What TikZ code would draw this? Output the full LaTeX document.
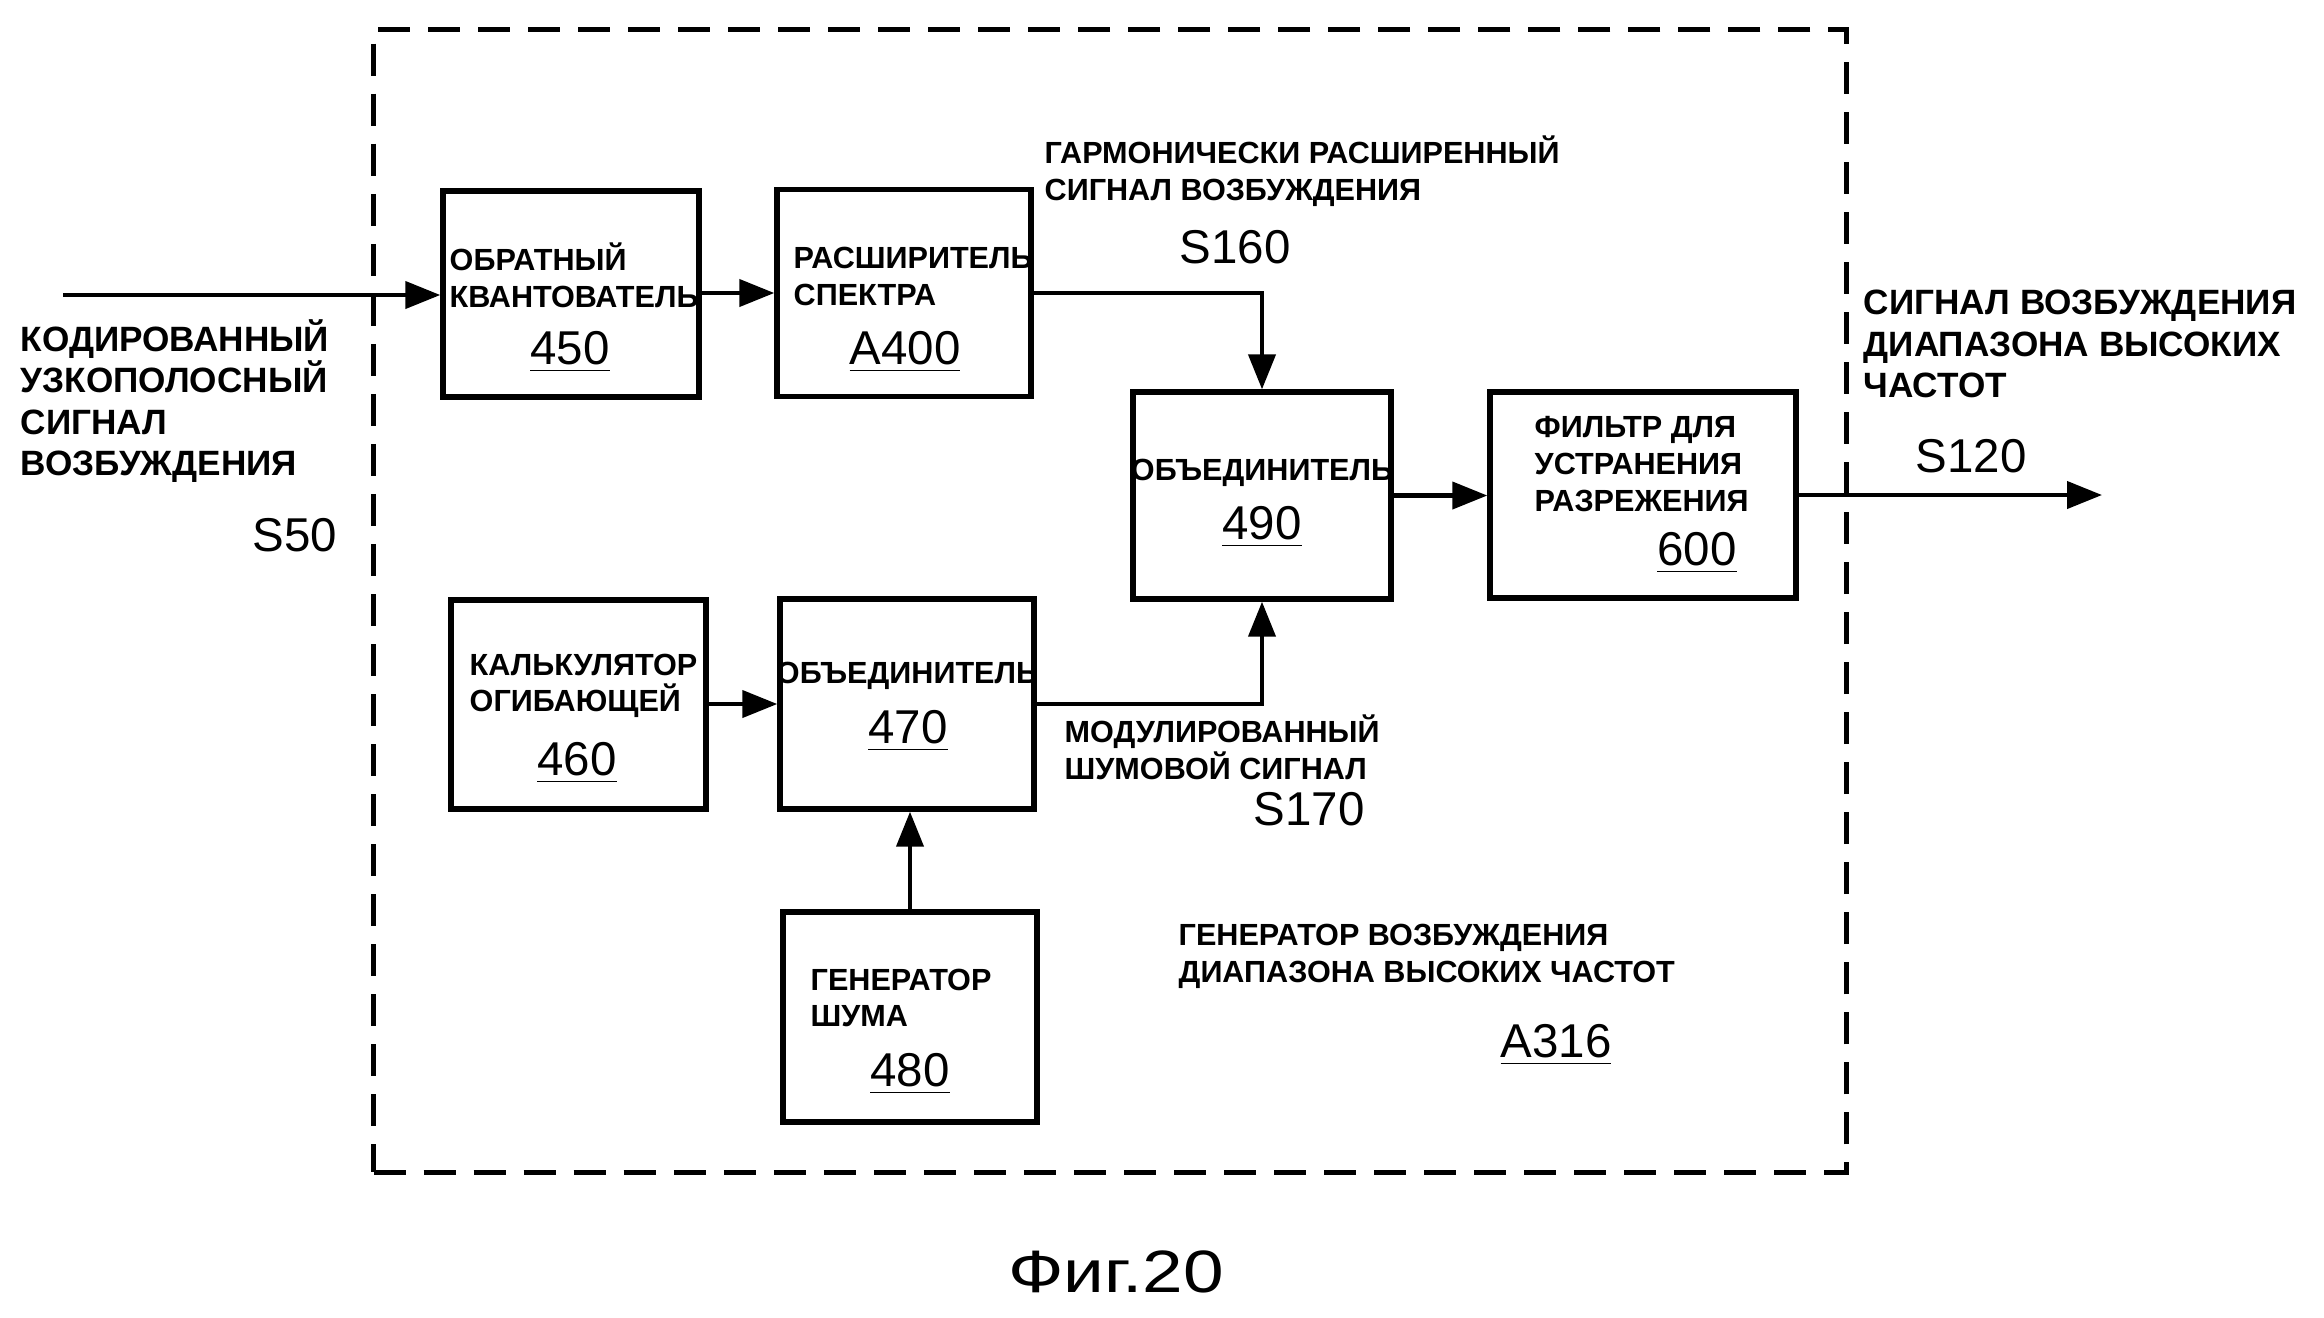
\documentclass[tikz,border=0pt]{standalone}
\usepackage{fontspec}
\setmainfont{Liberation Sans}
\newfontfamily\figfont{Liberation Sans}[FakeStretch=1.22]
\usetikzlibrary{arrows.meta}
\begin{document}
\begin{tikzpicture}[x=0.01cm,y=-0.01cm,
  blk/.style={draw,line width=1.5pt,inner sep=0pt},
  wire/.style={line width=1.2pt},
  arr/.style={wire,-{Triangle[length=0.35cm,width=0.27cm]}},
  lbl/.style={inner sep=0pt,anchor=west,align=left,font=\fontsize{8.7pt}{10.4pt}\selectfont\bfseries},
  big/.style={inner sep=0pt,anchor=west,align=left,font=\fontsize{10pt}{11.7pt}\selectfont\bfseries},
  num/.style={inner sep=0pt,font=\fontsize{13.5pt}{15pt}\selectfont},
  frame/.style={draw,line width=1.3pt,dash pattern=on 0.32cm off 0.18cm,inner sep=0pt}]
\useasboundingbox (0,0) rectangle (2324,1317);
% dashed frame
\node[frame,minimum width=14.72cm,minimum height=11.42cm] (fr) at (1110,601) {};
% blocks
\node[blk,minimum width=2.56cm,minimum height=2.06cm] (b450) at (571,294) {};
\node[blk,minimum width=2.54cm,minimum height=2.07cm] (bA400) at (904,293) {};
\node[blk,minimum width=2.58cm,minimum height=2.07cm] (b490) at (1262,495.5) {};
\node[blk,minimum width=3.06cm,minimum height=2.06cm] (b600) at (1643,495) {};
\node[blk,minimum width=2.55cm,minimum height=2.09cm] (b460) at (578.5,704.5) {};
\node[blk,minimum width=2.54cm,minimum height=2.10cm] (b470) at (907,704) {};
\node[blk,minimum width=2.54cm,minimum height=2.10cm] (b480) at (910,1017) {};
% texts in blocks
\node[lbl] (t450) at (449,275.5) {ОБРАТНЫЙ\\КВАНТОВАТЕЛЬ};
\node[num] (n450) at (570,352) {\underline{450}};
\node[lbl] (tA400) at (793,276.5) {РАСШИРИТЕЛЬ\\СПЕКТРА};
\node[num] (nA400) at (905,352) {\underline{A400}};
\node[lbl,anchor=center] (t490) at (1262,473) {ОБЪЕДИНИТЕЛЬ};
\node[num] (n490) at (1262,527) {\underline{490}};
\node[lbl] (t600) at (1534,464) {ФИЛЬТР ДЛЯ\\УСТРАНЕНИЯ\\РАЗРЕЖЕНИЯ};
\node[num] (n600) at (1697,553) {\underline{600}};
\node[lbl] (t460) at (469,686) {КАЛЬКУЛЯТОР\\ОГИБАЮЩЕЙ};
\node[num] (n460) at (577,763) {\underline{460}};
\node[lbl,anchor=center] (t470) at (907,676) {ОБЪЕДИНИТЕЛЬ};
\node[num] (n470) at (908,731) {\underline{470}};
\node[lbl] (t480) at (810,998) {ГЕНЕРАТОР\\ШУМА};
\node[num] (n480) at (910,1074) {\underline{480}};
% free labels
\node[big] (tin) at (20,401) {КОДИРОВАННЫЙ\\УЗКОПОЛОСНЫЙ\\СИГНАЛ\\ВОЗБУЖДЕНИЯ};
\node[num] (s50) at (295,535) {S50};
\node[lbl] (tharm) at (1044,171) {ГАРМОНИЧЕСКИ РАСШИРЕННЫЙ\\СИГНАЛ ВОЗБУЖДЕНИЯ};
\node[num] (s160) at (1235,247) {S160};
\node[big] (tout) at (1863,344) {СИГНАЛ ВОЗБУЖДЕНИЯ\\ДИАПАЗОНА ВЫСОКИХ\\ЧАСТОТ};
\node[num] (s120) at (1971,456) {S120};
\node[lbl] (tmod) at (1064,747.5) {МОДУЛИРОВАННЫЙ\\ШУМОВОЙ СИГНАЛ};
\node[num] (s170) at (1309,809) {S170};
\node[lbl] (tgen) at (1178,956.5) {ГЕНЕРАТОР ВОЗБУЖДЕНИЯ\\ДИАПАЗОНА ВЫСОКИХ ЧАСТОТ};
\node[num] (a316) at (1556,1045) {\underline{A316}};
\node[inner sep=0pt,font=\figfont\fontsize{17pt}{20pt}\selectfont] (fig) at (1116,1272) {Фиг.20};
% connectors
\coordinate (in) at (63,295);
\coordinate (out) at (2102,495);
\draw[arr] (in) -- (in -| b450.west);
\draw[arr] (b450.east |- bA400.east) -- (bA400.east -| bA400.west);
\draw[arr] (bA400.east) -| (b490.north);
\draw[arr] (b490.east) -- (b490.east -| b600.west);
\draw[arr] (b600.east |- out) -- (out);
\draw[arr] (b460.east |- b470.west) -- (b470.west);
\draw[arr] (b470.east) -| (b490.south);
\draw[arr] (b480.north) -- (b480.north |- b470.south);
\end{tikzpicture}
\end{document}
